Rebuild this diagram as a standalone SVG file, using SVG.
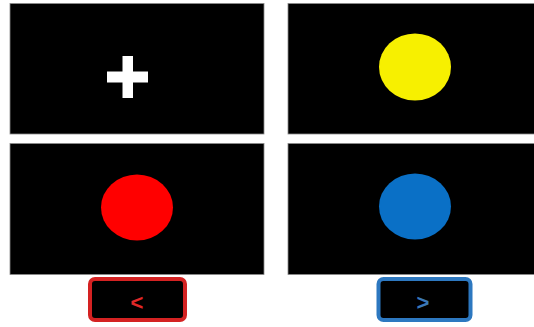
<svg xmlns="http://www.w3.org/2000/svg" width="534" height="327" viewBox="0 0 534 327">
<style>
.panel{fill:#000;stroke:#8a8a8a;stroke-width:0.8}
.btn{fill:#000;stroke-width:4}
.lbl{font-family:"Liberation Sans",Arial,sans-serif;font-size:22px;font-weight:bold;text-anchor:middle;dominant-baseline:central}
</style>
<rect width="534" height="327" fill="#fff"/>
<g id="panel-fixation">
<rect class="panel" x="10" y="3.5" width="254" height="130.5"/>
<rect x="107" y="71.5" width="41" height="11" fill="#fff"/>
<rect x="122.5" y="56" width="10.5" height="42" fill="#fff"/>
</g>
<g id="panel-yellow">
<rect class="panel" x="288" y="3.5" width="248" height="130.5"/>
<ellipse cx="415" cy="67" rx="36" ry="33.5" fill="#f7f000"/>
</g>
<g id="panel-red">
<rect class="panel" x="10" y="143.5" width="254" height="131"/>
<ellipse cx="137" cy="207.5" rx="36" ry="33" fill="#ff0000"/>
</g>
<g id="panel-blue">
<rect class="panel" x="288" y="143.5" width="248" height="131"/>
<ellipse cx="415" cy="206.5" rx="36" ry="33" fill="#0a70c6"/>
</g>
<g id="button-left">
<rect class="btn" x="90" y="279" width="95" height="41" rx="5" stroke="#d42222"/>
<text class="lbl" x="137" y="302" fill="#e02828">&lt;</text>
</g>
<g id="button-right">
<rect class="btn" x="378.5" y="279" width="92" height="41" rx="5" stroke="#2d78c0"/>
<text class="lbl" x="423" y="302" fill="#3a78b8">&gt;</text>
</g>
<g id="connectors"/>
</svg>
